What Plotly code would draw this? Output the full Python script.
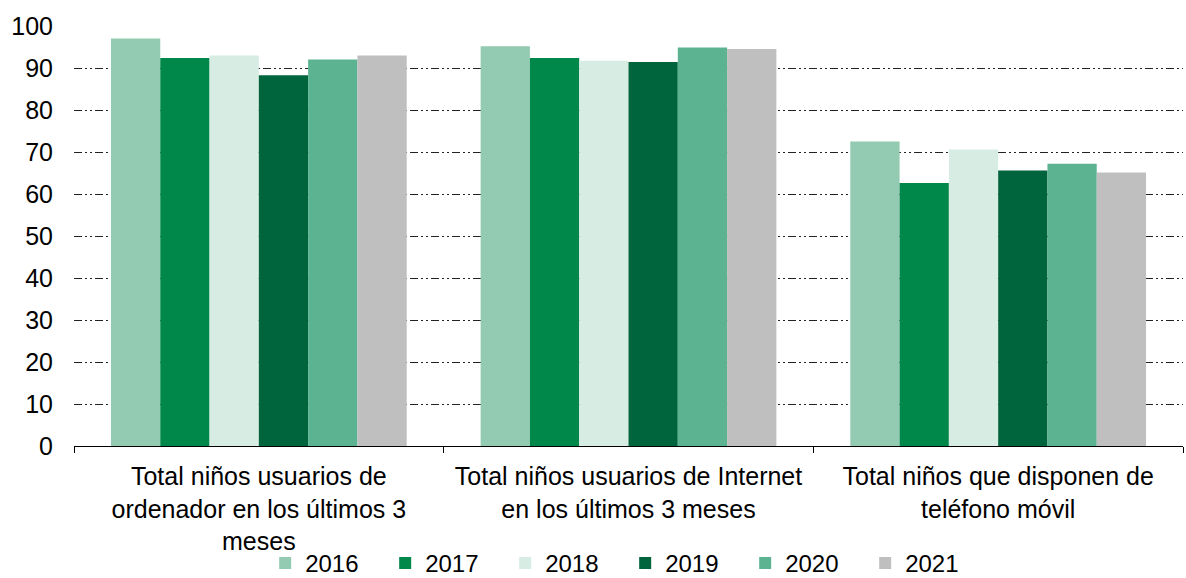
import plotly.graph_objects as go

categories = [
    "Total niños usuarios de<br>ordenador en los últimos 3<br>meses",
    "Total niños usuarios de Internet<br>en los últimos 3 meses",
    "Total niños que disponen de<br>teléfono móvil",
]
years = ["2016", "2017", "2018", "2019", "2020", "2021"]
values = {
    "2016": [97.0, 95.2, 72.5],
    "2017": [92.4, 92.4, 62.6],
    "2018": [93.0, 91.7, 70.6],
    "2019": [88.3, 91.4, 65.6],
    "2020": [92.0, 94.9, 67.2],
    "2021": [93.0, 94.5, 65.1],
}
colors = ["#93CBB2", "#00884B", "#D7ECE3", "#00643C", "#5CB392", "#BFBFBF"]
y_ticks = [0, 10, 20, 30, 40, 50, 60, 70, 80, 90, 100]

fig = go.Figure()
for yr, c in zip(years, colors):
    fig.add_trace(go.Bar(name=yr, x=categories, y=values[yr], marker_color=c,
                         marker_line_width=0))

font = "Liberation Sans, Arial, sans-serif"
fig.update_layout(
    width=1186, height=578,
    margin=dict(l=74, r=3, t=26, b=132, autoexpand=False),
    barmode="group", bargap=0.2, bargroupgap=0,
    plot_bgcolor="white", paper_bgcolor="white",
    font=dict(family=font, size=25, color="#000000"),
    showlegend=True,
    legend=dict(orientation="h", x=0.497, xanchor="center", y=-0.226, yanchor="top",
                font=dict(size=24), traceorder="normal", bgcolor="rgba(0,0,0,0)",
                entrywidth=75, entrywidthmode="pixels"),
    xaxis=dict(showline=True, linecolor="#000000", linewidth=1, automargin=False,
               ticks="outside", tickson="boundaries", ticklen=6, tickcolor="#000000",
               tickfont=dict(size=25), showgrid=False, ticklabelstandoff=8),
    yaxis=dict(range=[0, 100], tickvals=y_ticks, showline=False, automargin=False,
               showgrid=True, gridcolor="#222222", gridwidth=1,
               griddash="8px,3px,2px,3px,2px,3px",
               tickfont=dict(size=25), ticks="", zeroline=False,
               ticklabelstandoff=20),
)
fig.write_html("out.html", config={"displayModeBar": False},
               post_script="document.body.style.margin='0';document.body.style.overflow='hidden';")
